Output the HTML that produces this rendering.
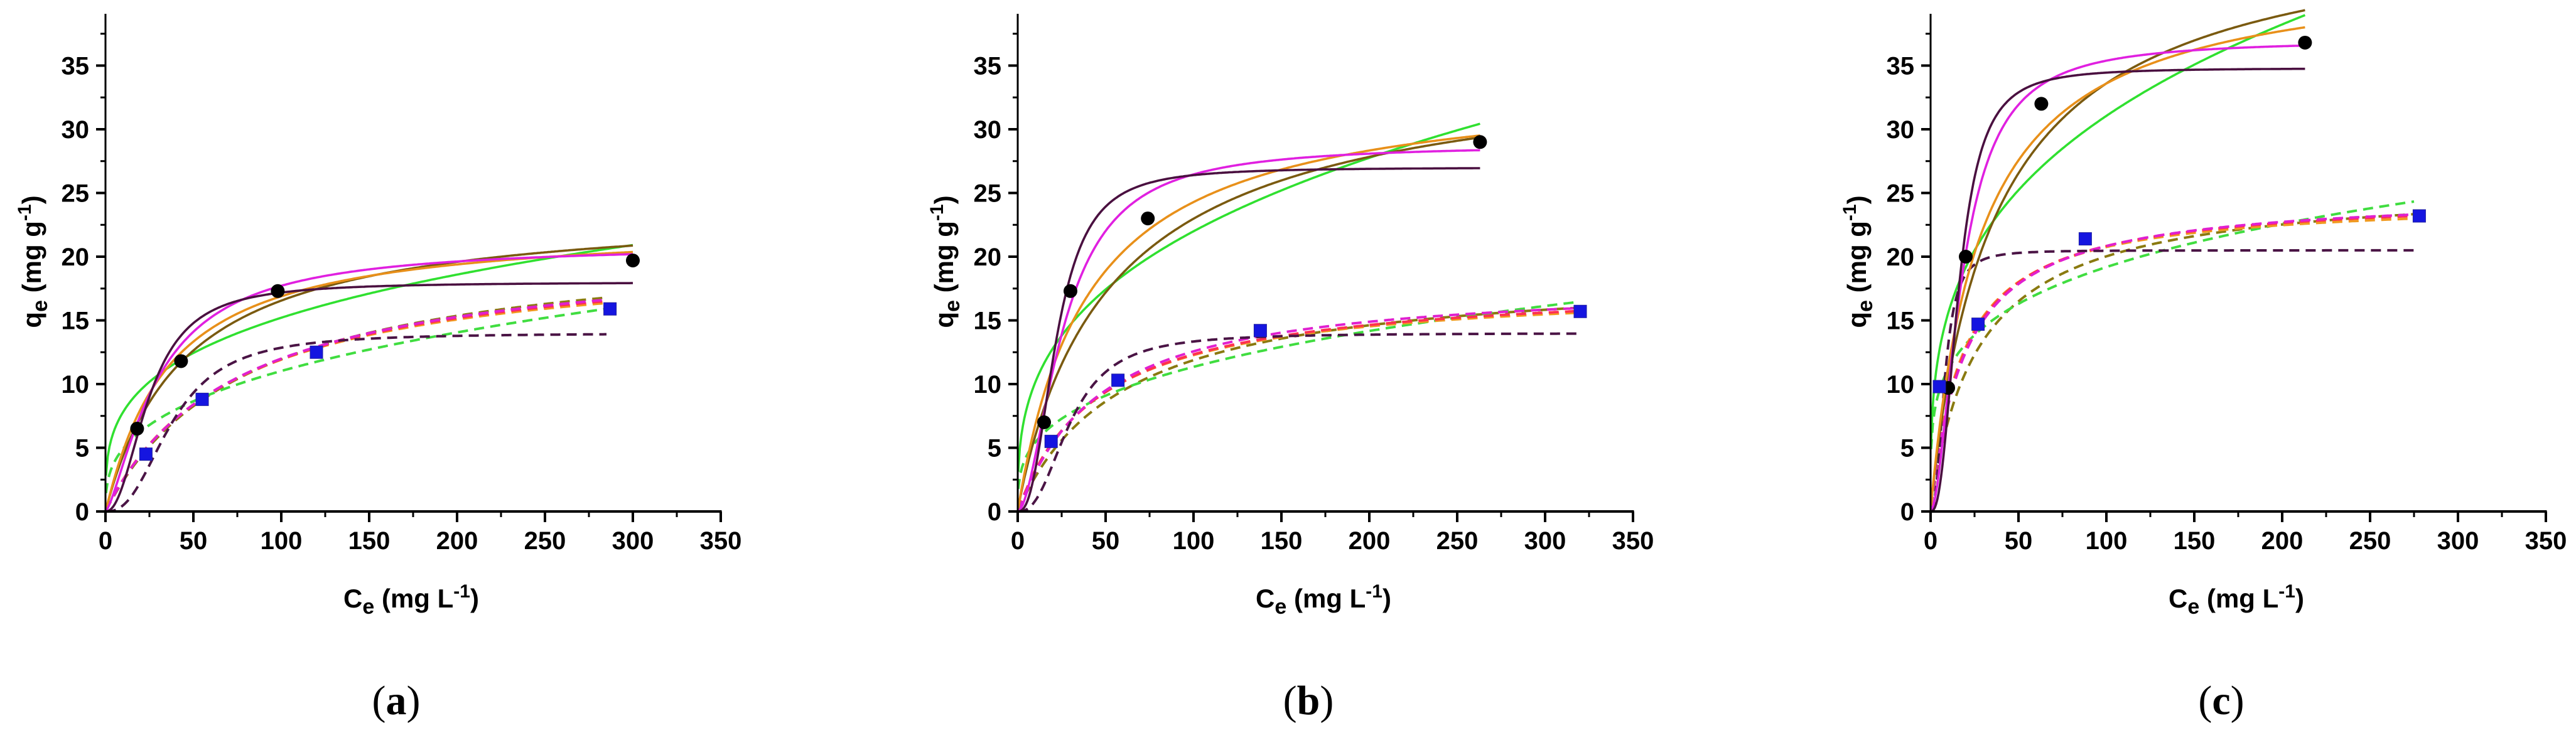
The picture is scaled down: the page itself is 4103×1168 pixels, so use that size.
<!DOCTYPE html>
<html><head><meta charset="utf-8"><style>
html,body{margin:0;padding:0;background:#fff;}
svg{display:block;font-family:"Liberation Sans",Arial,sans-serif;}
</style></head><body>
<svg id="chart" width="4103" height="1168" viewBox="0 0 4103 1168" xmlns="http://www.w3.org/2000/svg"></svg>
<script>
// ---- data ----
const panelLabels = ["a", "b", "c"];
const xTicks = [0, 50, 100, 150, 200, 250, 300, 350];
const yTicks = [0, 5, 10, 15, 20, 25, 30, 35];
// experimental points: circles (solid series) and squares (dashed series)
const circlesX = [[18, 43, 98, 300], [15, 30, 74, 263], [10, 20, 63, 213]];
const circlesY = [[6.5, 11.8, 17.3, 19.7], [7, 17.3, 23, 29], [9.7, 20, 32, 36.8]];
const squaresX = [[23, 55, 120, 287], [19, 57, 138, 320], [5, 27, 88, 278]];
const squaresY = [[4.5, 8.8, 12.5, 15.9], [5.5, 10.3, 14.2, 15.7], [9.8, 14.7, 21.4, 23.2]];
// model fit parameters [qm, K, n] (saturating fits); green = Freundlich [Kf, 1/n]
const solidDarkPurple = [[18, 25, 2.2], [27, 22, 2.5], [34.8, 16, 2.5]];
const solidMagenta = [[21, 30, 1.4], [28.8, 26, 1.8], [37, 18, 1.8]];
const solidOrange = [[22.5, 35, 1.05], [34, 40, 1.0], [43, 28, 1.0]];
const solidBrown = [[24, 45, 1.0], [36, 55, 0.95], [47, 38, 0.95]];
const solidGreen = [[4, 0.29], [4.68, 0.336], [7.8, 0.3]];
const dashDarkPurple = [[14, 38, 2.5], [14, 30, 2.5], [20.5, 8, 2.5]];
const dashMagenta = [[21, 75, 1.0], [18, 45, 1.05], [25, 20, 1.0]];
const dashOrange = [[20.5, 72, 1.0], [17.8, 45, 1.0], [24.5, 18, 1.0]];
const dashRed = [[20.8, 74, 1.0], [18, 46, 1.0], [24.8, 19, 1.0]];
const dashBrown = [[21.5, 80, 1.0], [19, 60, 1.0], [26, 28, 0.95]];
const dashGreen = [[2.2, 0.35], [2.6, 0.32], [6.5, 0.235]];
const solidXMax = [300, 263, 213];
const dashXMax = [285, 318, 275];

// ---- layout ----
const NS = "http://www.w3.org/2000/svg";
const svg = document.getElementById("chart");
const axisX0 = [168, 1621, 3075];
const pxPerX = 2.8, pxPerY = 20.3, yBase = 815, yTopPx = 22;
function mk(tag, attrs, parent) {
  const e = document.createElementNS(NS, tag);
  for (const k in attrs) e.setAttribute(k, attrs[k]);
  (parent || svg).appendChild(e);
  return e;
}
function hill(p, x) { const r = Math.pow(x / p[1], p[2]); return p[0] * r / (1 + r); }
function freund(p, x) { return p[0] * Math.pow(x, p[1]); }

for (let i = 0; i < 3; i++) {
  const x0 = axisX0[i];
  const sx = v => x0 + v * pxPerX;
  const sy = v => yBase - v * pxPerY;
  const g = mk("g", {});
  
  

  function curve(fn, p, xmax, color, dashed, name) {
    let d = "";
    for (let k = 0; k <= 300; k++) {
      const x = 0.3 + (xmax - 0.3) * k / 300;
      const y = Math.max(0, fn(p, x));
      d += (k ? "L" : "M") + sx(x).toFixed(1) + "," + sy(y).toFixed(1);
    }
    const a = { d: d, fill: "none", stroke: color, "stroke-width": 3.6 };
    if (dashed) { a["stroke-dasharray"] = "16,10"; a["stroke-width"] = 4; }
    const el = mk("path", a, g);
    
    
  }
  curve(hill, dashBrown[i], dashXMax[i], "#8a7a10", true, "dashed-fit-brown");
  curve(freund, dashGreen[i], dashXMax[i], "#40dd40", true, "dashed-fit-green");
  curve(hill, dashOrange[i], dashXMax[i], "#f09a20", true, "dashed-fit-orange");
  curve(hill, dashRed[i], dashXMax[i], "#ff3050", true, "dashed-fit-red");
  curve(hill, dashMagenta[i], dashXMax[i], "#e020d0", true, "dashed-fit-magenta");
  curve(hill, dashDarkPurple[i], dashXMax[i], "#4a1445", true, "dashed-fit-dark-purple");
  curve(freund, solidGreen[i], solidXMax[i], "#30e030", false, "solid-fit-green");
  curve(hill, solidBrown[i], solidXMax[i], "#7a5a10", false, "solid-fit-brown");
  curve(hill, solidOrange[i], solidXMax[i], "#e8901a", false, "solid-fit-orange");
  curve(hill, solidMagenta[i], solidXMax[i], "#e020e0", false, "solid-fit-magenta");
  curve(hill, solidDarkPurple[i], solidXMax[i], "#4a1040", false, "solid-fit-dark-purple");

  for (let k = 0; k < circlesX[i].length; k++) {
    const c = mk("circle", { cx: sx(circlesX[i][k]), cy: sy(circlesY[i][k]), r: 11, fill: "#000" }, g);
    
    
  }
  for (let k = 0; k < squaresX[i].length; k++) {
    const s = mk("rect", { x: sx(squaresX[i][k]) - 10, y: sy(squaresY[i][k]) - 10, width: 20, height: 20, fill: "#1515e0", stroke: "#2020a0", "stroke-width": 1 }, g);
    
    
  }

  const ya = mk("line", { x1: x0, y1: yTopPx, x2: x0, y2: yBase, stroke: "#000", "stroke-width": 3 }, g);
  
  
  const xa = mk("line", { x1: x0 - 15, y1: yBase, x2: sx(350) + 1.5, y2: yBase, stroke: "#000", "stroke-width": 4 }, g);
  
  
  mk("line", { x1: sx(350), y1: yBase, x2: sx(350), y2: yBase + 17, stroke: "#000", "stroke-width": 3 }, g);

  for (let v = 0; v <= 350; v += 25) {
    const major = v % 50 === 0;
    mk("line", { x1: sx(v), y1: yBase, x2: sx(v), y2: yBase + (major ? 17 : 9), stroke: "#000", "stroke-width": major ? 4 : 3 }, g);
  }
  for (let v = 2.5; v <= 37.5; v += 2.5) {
    const major = v % 5 === 0;
    mk("line", { x1: x0 - (major ? 15 : 8), y1: sy(v), x2: x0, y2: sy(v), stroke: "#000", "stroke-width": major ? 4 : 3 }, g);
  }
  xTicks.forEach(v => {
    const t = mk("text", { x: sx(v), y: 875, "text-anchor": "middle", "font-size": 40, "font-weight": "bold" }, g);
    t.textContent = v;
    
    
  });
  yTicks.forEach(v => {
    const t = mk("text", { x: x0 - 26, y: sy(v) + 14, "text-anchor": "end", "font-size": 40, "font-weight": "bold" }, g);
    t.textContent = v;
    
    
  });

  const xt = mk("text", { x: x0 + 487, y: 968, "text-anchor": "middle", "font-size": 42, "font-weight": "bold" }, g);
  xt.innerHTML = 'C<tspan font-size="34" dy="10">e</tspan><tspan dy="-10"> (mg L</tspan><tspan font-size="30" dy="-16">-1</tspan><tspan dy="16">)</tspan>';
  
  
  const lx = x0 - 118;
  const yt = mk("text", { x: 0, y: 0, "text-anchor": "middle", "font-size": 42, "font-weight": "bold", transform: "translate(" + (lx + 15) + ",417) rotate(-90)" }, g);
  yt.innerHTML = 'q<tspan font-size="34" dy="10">e</tspan><tspan dy="-10"> (mg g</tspan><tspan font-size="30" dy="-16">-1</tspan><tspan dy="16">)</tspan>';
  
  

  const pl = mk("text", { x: x0 + 463, y: 1138, "text-anchor": "middle", "font-size": 66, "font-family": "Liberation Serif, serif" }, g);
  pl.innerHTML = '(<tspan font-weight="bold">' + panelLabels[i] + '</tspan>)';
  
  
}
</script>
</body></html>
